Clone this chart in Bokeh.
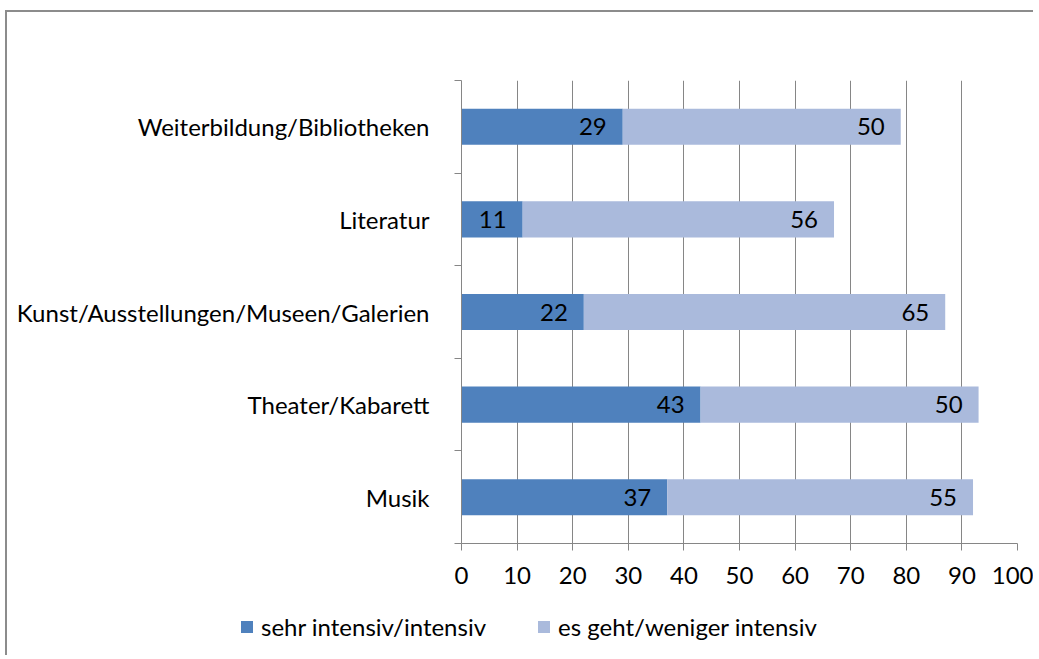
from bokeh.plotting import figure
from bokeh.models import ColumnDataSource, FixedTicker, Legend, LegendItem
from bokeh.embed import file_html
from bokeh.resources import INLINE
from bokeh.core.properties import value

categories = ["Musik", "Theater/Kabarett", "Kunst/Ausstellungen/Museen/Galerien", "Literatur", "Weiterbildung/Bibliotheken"]
intensiv = [37, 43, 22, 11, 29]
weniger = [55, 50, 65, 56, 50]
series_names = ["sehr intensiv/intensiv", "es geht/weniger intensiv"]
x_ticks = [0, 10, 20, 30, 40, 50, 60, 70, 80, 90, 100]

FONT = "Lato"
FS = "24px"
DARK = "#4F81BD"
LIGHT = "#AABADC"
GRAY = "#868686"
colors = [DARK, LIGHT]

ypos = [i + 0.5 for i in range(len(categories))]
ends1 = list(intensiv)
ends2 = [a + b for a, b in zip(intensiv, weniger)]

src = ColumnDataSource(dict(y=ypos, a=intensiv, b=weniger, e1=ends1, e2=ends2,
                            l1=[str(v) for v in intensiv], l2=[str(v) for v in weniger]))

p = figure(width=1028, height=591, x_range=(0, 100), y_range=(0, len(categories)),
           output_backend="svg", toolbar_location=None,
           min_border_left=454, min_border_right=18, min_border_top=68, min_border_bottom=60)
p.styles = {"border-left": "2px solid #8c8c8c", "border-top": "2px solid #8c8c8c",
            "margin-left": "5px", "margin-top": "10px"}
p.outline_line_color = None
p.background_fill_color = "white"

rs = p.hbar_stack(["a", "b"], y="y", height=0.39, color=colors, line_color=None, source=src)

p.text(x="e1", y="y", text="l1", source=src, text_align="right", text_baseline="middle",
       x_offset=-16, text_font=value(FONT), text_font_size=FS, text_color="black")
p.text(x="e2", y="y", text="l2", source=src, text_align="right", text_baseline="middle",
       x_offset=-16, text_font=value(FONT), text_font_size=FS, text_color="black")

# x axis
xa = p.xaxis[0]
xa.ticker = FixedTicker(ticks=x_ticks)
xa.axis_line_color = GRAY
xa.major_tick_line_color = GRAY
xa.major_tick_out = 7
xa.major_tick_in = 0
xa.minor_tick_line_color = None
xa.major_label_standoff = 16
xa.major_label_text_font = FONT
xa.major_label_text_font_size = FS
xa.major_label_text_color = "black"

# y axis
ya = p.yaxis[0]
ya.ticker = FixedTicker(ticks=ypos, minor_ticks=list(range(len(categories) + 1)))
ya.major_label_overrides = {y: c for y, c in zip(ypos, categories)}
ya.axis_line_color = GRAY
ya.major_tick_line_color = None
ya.major_tick_out = 0
ya.major_tick_in = 0
ya.minor_tick_line_color = GRAY
ya.minor_tick_out = 7
ya.minor_tick_in = 0
ya.major_label_standoff = 25
ya.major_label_text_font = FONT
ya.major_label_text_font_size = FS
ya.major_label_text_color = "black"

p.xgrid.ticker = FixedTicker(ticks=x_ticks)
p.xgrid.grid_line_color = GRAY
p.ygrid.grid_line_color = None

# legend strip (separate root so its frame is not aligned with the main plot)
p2 = figure(width=1028, height=54, x_range=(0, 100), y_range=(100, 101),
            output_backend="svg", toolbar_location=None,
            min_border_left=0, min_border_right=0, min_border_top=0, min_border_bottom=0)
p2.styles = {"border-left": "2px solid #8c8c8c", "margin-left": "5px"}
p2.axis.visible = False
p2.grid.visible = False
p2.outline_line_color = None
rs2 = p2.hbar_stack(["a", "b"], y="y", height=0.39, color=colors, line_color=None, source=src)

legend = Legend(items=[LegendItem(label=n, renderers=[r]) for n, r in zip(series_names, rs2)],
                orientation="horizontal", location=(232, 14))
legend.glyph_width = 15
legend.glyph_height = 15
legend.label_standoff = 7
legend.spacing = 50
legend.padding = 0
legend.margin = 0
legend.border_line_color = None
legend.background_fill_alpha = 0
legend.label_text_font = FONT
legend.label_text_font_size = FS
legend.label_text_color = "black"
p2.add_layout(legend, "center")

open("out.html", "w").write(file_html([p, p2], INLINE))
